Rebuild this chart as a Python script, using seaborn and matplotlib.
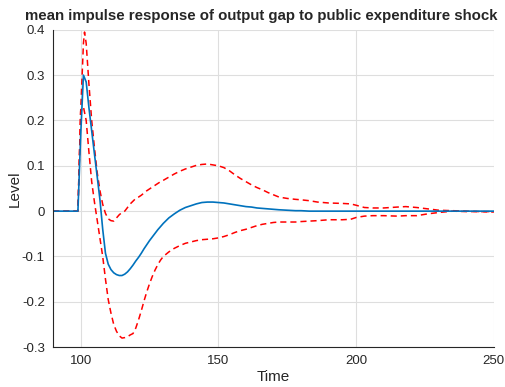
import matplotlib
matplotlib.use("Agg")
import matplotlib.pyplot as plt
import seaborn as sns
import pandas as pd

time = [90, 99,
        100, 101, 102, 103, 104, 105, 106, 107, 108, 109, 110, 111, 112, 113, 114, 115,
        116, 117, 118, 119, 120, 121, 122, 123, 124, 125, 126, 127, 128, 129, 130,
        132, 134, 136, 138, 140, 142, 144, 146, 148, 150, 152, 154, 156, 158, 160,
        162, 164, 166, 168, 170,
        172, 175, 178, 180, 183, 186, 190, 195, 198, 200, 203, 206, 210, 215, 218,
        222, 226, 230, 235, 240, 245, 250]

mean_irf = [0, 0,
            0.167, 0.30, 0.285, 0.228, 0.177, 0.126, 0.076, 0.025, -0.04, -0.093, -0.117, -0.129,
            -0.136, -0.14, -0.142, -0.142, -0.139, -0.134, -0.127, -0.119, -0.11, -0.102,
            -0.093, -0.083, -0.074, -0.065, -0.057, -0.049, -0.041, -0.034, -0.027,
            -0.015, -0.006, 0.002, 0.008, 0.012, 0.016, 0.019, 0.020, 0.020, 0.019, 0.018,
            0.016, 0.014, 0.012, 0.010, 0.009, 0.007, 0.006, 0.005, 0.004,
            0.003, 0.002, 0.001, 0.001, 0.0, 0.0, 0.0, 0.0, 0.0, 0.0, 0.0, 0.0, 0.0, 0.0,
            0.0, 0.0, 0.0, 0.0, 0.0, 0.0, 0.0, 0.0]

upper_band = [0, 0,
              0.22, 0.37, 0.37, 0.28, 0.20, 0.14, 0.085, 0.045, 0.015, -0.005, -0.017, -0.021,
              -0.022, -0.015, -0.008, -0.003, 0.0, 0.008, 0.016, 0.022, 0.028, 0.031,
              0.035, 0.04, 0.045, 0.049, 0.053, 0.057, 0.061, 0.065, 0.068,
              0.075, 0.082, 0.088, 0.093, 0.097, 0.101, 0.103, 0.104, 0.102, 0.100, 0.096,
              0.089, 0.080, 0.072, 0.065, 0.058, 0.052, 0.047, 0.041, 0.036,
              0.031, 0.028, 0.026, 0.025, 0.023, 0.020, 0.018, 0.017, 0.016, 0.013, 0.008,
              0.007, 0.007, 0.009, 0.010, 0.008, 0.005, 0.002, 0.001, 0.0, -0.001, -0.001]

upper_peak_time = [101.4]
upper_peak_value = [0.395]

lower_band = [0, 0,
              0.22, 0.23, 0.20, 0.13, 0.065, 0.02, -0.02, -0.06, -0.10, -0.15, -0.195,
              -0.225, -0.25, -0.265, -0.275, -0.28, -0.279, -0.277, -0.273, -0.27, -0.258,
              -0.24, -0.22, -0.198, -0.178, -0.16, -0.144, -0.13, -0.118, -0.108, -0.10,
              -0.09, -0.082, -0.076, -0.071, -0.068, -0.065, -0.063, -0.062, -0.061, -0.059,
              -0.056, -0.052, -0.047, -0.043, -0.04, -0.036, -0.032, -0.029, -0.027, -0.025,
              -0.024, -0.024, -0.024, -0.023, -0.022, -0.021, -0.019, -0.019, -0.018, -0.014,
              -0.011, -0.010, -0.010, -0.011, -0.010, -0.010, -0.006, -0.003, 0.0, -0.001,
              -0.001, -0.002]

xticks = [100, 150, 200, 250]
yticks = [-0.3, -0.2, -0.1, 0, 0.1, 0.2, 0.3, 0.4]
ytick_labels = ["-0.3", "-0.2", "-0.1", "0", "0.1", "0.2", "0.3", "0.4"]

df = pd.DataFrame({"Time": time, "mean": mean_irf, "upper": upper_band, "lower": lower_band})
up = pd.concat([df[["Time", "upper"]],
                pd.DataFrame({"Time": upper_peak_time, "upper": upper_peak_value})])
up = up.sort_values("Time").reset_index(drop=True)

sns.set_style("whitegrid")
plt.rcParams["font.family"] = ["Liberation Sans", "DejaVu Sans"]
plt.rcParams["axes.unicode_minus"] = False

fig = plt.figure(figsize=(5.06, 3.87), dpi=100)
ax = fig.add_axes([0.105, 0.103, 0.871, 0.82])

dash = (0, (4, 2.6))
sns.lineplot(data=up, x="Time", y="upper", ax=ax, color="#FF0000", lw=1.1,
             linestyle=dash, sort=False)
sns.lineplot(data=df, x="Time", y="lower", ax=ax, color="#FF0000", lw=1.1,
             linestyle=dash)
sns.lineplot(data=df, x="Time", y="mean", ax=ax, color="#0072BD", lw=1.2)

ax.set_xlim(90, 250)
ax.set_ylim(-0.3, 0.4)
ax.set_xticks(xticks)
ax.set_yticks(yticks)
ax.set_yticklabels(ytick_labels)
ax.grid(True, color="#dedede", lw=0.8)
for s in ["top", "right"]:
    ax.spines[s].set_visible(False)
for s in ["left", "bottom"]:
    ax.spines[s].set_color("#262626")
    ax.spines[s].set_linewidth(0.8)
ax.tick_params(direction="in", length=4, width=0.8, color="#262626",
               labelsize=9.5, labelcolor="#262626", pad=6)
ax.set_xlabel("Time", fontsize=11, color="#262626", labelpad=2)
ax.set_ylabel("Level", fontsize=11, color="#262626")
ax.yaxis.set_label_coords(-0.086, 0.5)
ax.yaxis.label.set_verticalalignment("center")
ax.set_title("mean impulse response of output gap to public expenditure shock",
             fontsize=10.8, fontweight="bold", pad=7, x=0.473)

fig.savefig("out.png", dpi=100)
